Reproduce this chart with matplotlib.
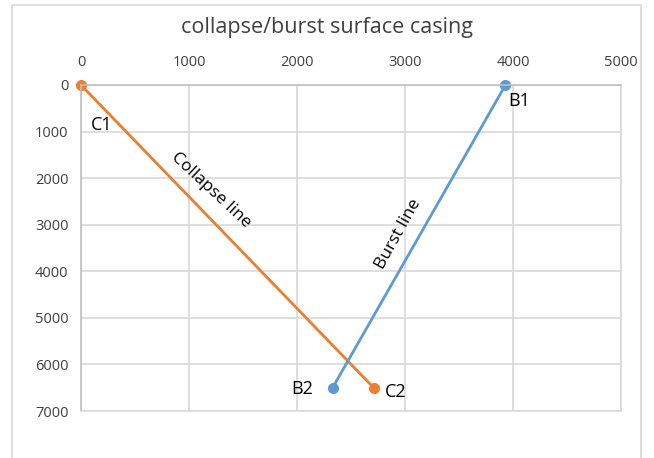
import matplotlib
matplotlib.use('Agg')
import matplotlib.pyplot as plt
from matplotlib.patches import Rectangle

plt.rcParams['font.family'] = ['Open Sans', 'DejaVu Sans']

# collapse and burst lines (pressure on x, depth on y)
collapse_x = [0, 2710]
collapse_y = [0, 6500]
burst_x = [3930, 2330]
burst_y = [0, 6500]

fig = plt.figure(figsize=(6.54, 4.58), dpi=100)
ax = fig.add_axes([81/654, 1 - 411/458, 540/654, 326/458])

# chart area border
fig.patches.append(Rectangle((12/654, -0.1), 629/654, 1.09, transform=fig.transFigure,
                             fill=False, edgecolor='#d9d9d9', linewidth=1.2))

ax.plot(collapse_x, collapse_y, color='#ed7d31', linewidth=2, marker='o', markersize=7)
ax.plot(burst_x, burst_y, color='#5b9bd5', linewidth=2, marker='o', markersize=7)

ax.set_xlim(0, 5000)
ax.set_ylim(7000, 0)
ax.set_xticks(range(0, 5001, 1000))
ax.set_yticks(range(0, 7001, 1000))
ax.xaxis.tick_top()
ax.grid(True, color='#d9d9d9', linewidth=1.2)
ax.set_axisbelow(True)
for side in ['top', 'left']:
    ax.spines[side].set_color('#bfbfbf')
    ax.spines[side].set_linewidth(1.2)
for side in ['right', 'bottom']:
    ax.spines[side].set_color('#d9d9d9')
    ax.spines[side].set_linewidth(1.2)
ax.tick_params(length=0, labelsize=10.5, colors='#404040')
ax.tick_params(axis='x', pad=11)
ax.tick_params(axis='y', pad=9)
for line in ax.lines:
    line.set_clip_on(False)

ax.text(90, 850, 'C1', fontsize=13, ha='left', va='center')
ax.text(2810, 6590, 'C2', fontsize=13, ha='left', va='center')
ax.text(3960, 340, 'B1', fontsize=13, ha='left', va='center')
ax.text(2150, 6520, 'B2', fontsize=13, ha='right', va='center')
ax.text(1200, 2250, 'Collapse line', fontsize=12.5, rotation=-43, ha='center', va='center')
ax.text(2940, 3200, 'Burst line', fontsize=12.5, rotation=61, ha='center', va='center')

fig.text(0.5, 1 - 28/458, 'collapse/burst surface casing', fontsize=15.5, color='#404040',
         ha='center', va='center')

fig.savefig('out.png', dpi=100)
